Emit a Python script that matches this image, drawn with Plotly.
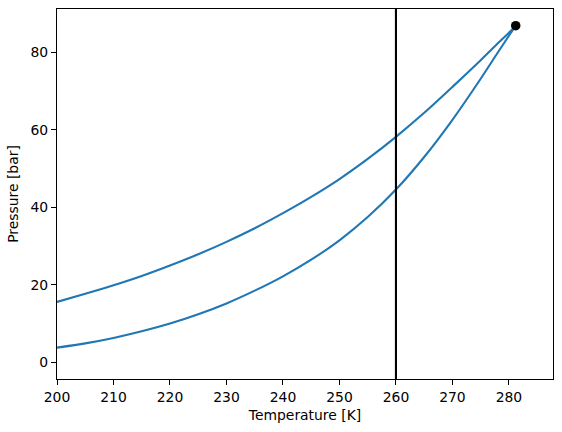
import plotly.graph_objects as go

# Upper branch (bubble line)
T_upper = [200, 205, 210, 215, 220, 225, 230, 235, 240, 245, 250, 255, 260,
           265, 270, 275, 278, 280, 281.2]
P_upper = [15.6, 17.7, 19.9, 22.3, 25.0, 27.9, 31.1, 34.6, 38.5, 42.7, 47.3,
           52.5, 58.2, 64.4, 71.1, 78.0, 82.3, 85.1, 86.9]

# Lower branch (dew line)
T_lower = [200, 205, 210, 215, 220, 225, 230, 235, 240, 245, 250, 255, 260,
           265, 270, 275, 278, 280, 281.2]
P_lower = [3.8, 4.9, 6.3, 8.0, 10.0, 12.4, 15.2, 18.5, 22.2, 26.5, 31.5,
           37.5, 44.6, 53.0, 62.6, 73.2, 79.9, 84.3, 86.9]

# Critical point
crit_T = [281.2]
crit_P = [86.9]

# Vertical reference line temperature
T_line = 260

x_ticks = [200, 210, 220, 230, 240, 250, 260, 270, 280]
y_ticks = [0, 20, 40, 60, 80]

blue = "#1f77b4"
font = dict(family="DejaVu Sans", size=13.9, color="black")

fig = go.Figure()
fig.add_trace(go.Scatter(x=T_upper, y=P_upper, mode="lines",
                         line=dict(color=blue, width=2.1, shape="spline", smoothing=0.8),
                         showlegend=False))
fig.add_trace(go.Scatter(x=T_lower, y=P_lower, mode="lines",
                         line=dict(color=blue, width=2.1, shape="spline", smoothing=0.8),
                         showlegend=False))
fig.add_vline(x=T_line, line=dict(color="black", width=2.1))
fig.add_trace(go.Scatter(x=crit_T, y=crit_P, mode="markers",
                         marker=dict(color="black", size=9.5), showlegend=False))

axis_common = dict(showline=True, linecolor="black", linewidth=1.1, mirror=True,
                   ticks="outside", ticklen=5, tickwidth=1.1, tickcolor="black",
                   showgrid=False, zeroline=False, tickfont=font)

fig.update_xaxes(range=[200, 287.8], tickvals=x_ticks,
                 title=dict(text="Temperature [K]", font=font, standoff=6),
                 **axis_common)
fig.update_yaxes(range=[-4.3, 91.2], tickvals=y_ticks,
                 title=dict(text="Pressure [bar]", font=font, standoff=8),
                 **axis_common)

fig.update_layout(width=562, height=432,
                  margin=dict(l=57, r=9, t=9, b=53),
                  plot_bgcolor="white", paper_bgcolor="white",
                  font=font)

fig.write_html("out.html", config={"displayModeBar": False},
               post_script="document.body.style.margin='0';document.body.style.overflow='hidden';")
